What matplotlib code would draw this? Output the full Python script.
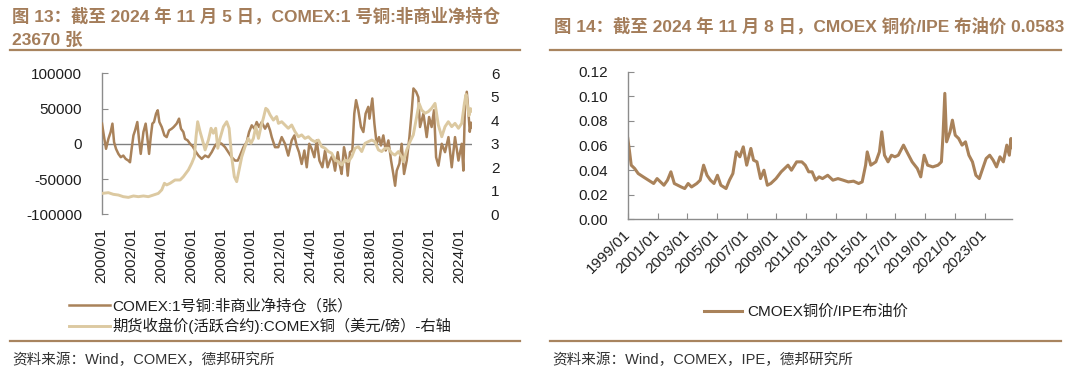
import matplotlib
matplotlib.use('Agg')
import matplotlib.pyplot as plt
from matplotlib.lines import Line2D

plt.rcParams['font.family'] = ['Liberation Sans', 'Noto Sans CJK SC']
plt.rcParams['axes.unicode_minus'] = False

# ---------------- data: figure 13 ----------------
net_years = [2000.02, 2000.16, 2000.29, 2000.45, 2000.60, 2000.72, 2000.83, 2000.96, 2001.12, 2001.28,
             2001.45, 2001.61, 2001.79, 2001.90, 2002.01, 2002.13, 2002.24, 2002.39, 2002.51, 2002.62,
             2002.80, 2002.95, 2003.06, 2003.18, 2003.29, 2003.40, 2003.51, 2003.65, 2003.76, 2003.87,
             2004.03, 2004.21, 2004.36, 2004.52, 2004.70, 2004.83, 2005.03, 2005.19, 2005.32, 2005.48,
             2005.59, 2005.77, 2005.93, 2006.11, 2006.26, 2006.49, 2006.71, 2006.94, 2007.16, 2007.38,
             2007.61, 2007.83, 2008.05, 2008.28, 2008.50, 2008.72, 2008.95, 2009.13, 2009.28, 2009.51,
             2009.73, 2009.89, 2010.07, 2010.25, 2010.40, 2010.56, 2010.74, 2010.96, 2011.14, 2011.30,
             2011.41, 2011.63, 2011.85, 2012.08, 2012.30, 2012.52, 2012.75, 2012.93, 2013.08, 2013.24,
             2013.42, 2013.60, 2013.76, 2013.93, 2014.09, 2014.27, 2014.43, 2014.61, 2014.81, 2014.99,
             2015.16, 2015.32, 2015.48, 2015.66, 2015.84, 2015.99, 2016.10, 2016.26, 2016.40, 2016.51,
             2016.66, 2016.82, 2016.95, 2017.07, 2017.22, 2017.40, 2017.56, 2017.71, 2017.89, 2017.97,
             2018.16, 2018.30, 2018.45, 2018.61, 2018.74, 2018.90, 2019.06, 2019.24, 2019.42, 2019.57,
             2019.69, 2019.80, 2019.98, 2020.13, 2020.29, 2020.47, 2020.65, 2020.81, 2020.92, 2021.10,
             2021.25, 2021.36, 2021.59, 2021.81, 2021.97, 2022.14, 2022.30, 2022.44, 2022.60, 2022.82,
             2023.04, 2023.27, 2023.49, 2023.71, 2023.94, 2024.16, 2024.27, 2024.38, 2024.50, 2024.61,
             2024.70, 2024.78, 2024.85]
net_pos = [28600, 9500, -7100, 7100, 16700, 28600, 2400, -7100, -14300, -19000,
           -16700, -21400, -23800, -26200, -7100, 11900, 19000, 30900, 4800, -14300,
           16700, 28600, 9500, -14300, 9500, 28600, 30900, 42900, 47600, 30900,
           23800, 11900, 9500, 19000, 21400, 23800, 28600, 35700, 21400, 16700,
           7100, 4800, 0, -3800, -9500, -16700, -21400, -16700, -19000, -11900,
           -2400, 2400, 0, -4800, -11900, -19000, -23800, -23800, -16700, -4800,
           2400, 16700, 26200, 21400, 30900, 23800, 30900, 21400, 28600, 19000,
           9500, -4800, -4800, 9500, 0, -16700, 4800, 11900, -2400, -11900,
           -28600, -9500, -33300, 0, -7100, -19000, 4800, -23800, -33300, -9500,
           -33300, -23800, -16700, -38100, -11900, -30900, -42800, -4800, -19000, -45200,
           -11900, -9500, 42800, 61900, 47600, 23800, 16700, 42800, 52400, 35700,
           64300, 28600, 0, 9500, -2400, 11900, -9500, 4800, -23800, -42800,
           -59500, -38100, -28000, 0, -42800, -23800, 9500, 47600, 78500, 73800,
           66000, 23800, 42800, 9500, 38000, 23800, 47600, -19000, -31000, 0,
           -11900, 9500, -33300, 9500, -23800, 0, -38000, 57000, 73800, 45000,
           17000, 30000, 23670]

px_years = [2000.02, 2000.45, 2000.78, 2001.12, 2001.45, 2001.79, 2002.13, 2002.46, 2002.80, 2003.13,
            2003.47, 2003.80, 2004.03, 2004.21, 2004.36, 2004.59, 2004.92, 2005.26, 2005.48, 2005.82,
            2006.04, 2006.22, 2006.33, 2006.44, 2006.60, 2006.76, 2006.94, 2007.16, 2007.34, 2007.49,
            2007.65, 2007.79, 2007.94, 2008.17, 2008.39, 2008.55, 2008.72, 2008.90, 2009.06, 2009.22,
            2009.40, 2009.62, 2009.84, 2010.02, 2010.18, 2010.34, 2010.52, 2010.69, 2010.85, 2011.01,
            2011.14, 2011.30, 2011.52, 2011.74, 2011.86, 2012.08, 2012.30, 2012.52, 2012.75, 2012.97,
            2013.20, 2013.42, 2013.64, 2013.87, 2014.09, 2014.31, 2014.54, 2014.76, 2014.99, 2015.21,
            2015.43, 2015.66, 2015.88, 2016.10, 2016.33, 2016.55, 2016.78, 2017.00, 2017.22, 2017.45,
            2017.67, 2017.89, 2018.12, 2018.34, 2018.57, 2018.79, 2019.01, 2019.24, 2019.46, 2019.68,
            2019.91, 2020.13, 2020.24, 2020.47, 2020.69, 2020.91, 2021.14, 2021.30, 2021.47, 2021.70,
            2021.92, 2022.14, 2022.37, 2022.59, 2022.82, 2023.04, 2023.26, 2023.49, 2023.71, 2023.94,
            2024.16, 2024.34, 2024.45, 2024.55, 2024.65, 2024.75, 2024.85]
px_vals = [0.89, 0.92, 0.85, 0.82, 0.75, 0.72, 0.78, 0.75, 0.78, 0.75,
           0.82, 0.89, 1.04, 1.32, 1.25, 1.32, 1.46, 1.46, 1.60, 1.89,
           2.17, 2.45, 3.30, 3.94, 3.52, 3.16, 2.74, 3.16, 3.66, 3.45,
           3.66, 2.81, 3.23, 3.73, 3.94, 3.66, 2.45, 1.60, 1.39, 1.89,
           2.45, 2.88, 3.23, 3.02, 3.23, 3.73, 3.23, 3.73, 4.09, 4.51,
           4.44, 4.23, 4.01, 4.16, 3.87, 3.94, 3.80, 3.66, 3.80, 3.52,
           3.30, 3.38, 3.23, 3.30, 3.16, 3.09, 3.16, 2.88, 2.81, 2.67,
           2.60, 2.31, 2.24, 2.10, 2.31, 2.24, 2.45, 2.81, 2.88, 2.67,
           3.02, 3.09, 3.16, 3.09, 2.74, 2.67, 2.81, 2.81, 2.60, 2.52,
           2.67, 2.45, 2.24, 2.74, 3.09, 3.38, 4.16, 4.72, 4.44, 4.30,
           4.37, 4.51, 4.72, 3.80, 3.30, 3.73, 3.94, 3.73, 3.87, 3.66,
           3.87, 4.72, 5.10, 4.60, 4.20, 4.50, 4.40]

left_xticks = [2000, 2002, 2004, 2006, 2008, 2010, 2012, 2014, 2016, 2018, 2020, 2022, 2024]
left_xlabels = ['2000/01', '2002/01', '2004/01', '2006/01', '2008/01', '2010/01', '2012/01',
                '2014/01', '2016/01', '2018/01', '2020/01', '2022/01', '2024/01']
left_yticks = [-100000, -50000, 0, 50000, 100000]
right_yticks = [0, 1, 2, 3, 4, 5, 6]

# ---------------- data: figure 14 ----------------
ratio_years = [1999.00, 1999.12, 1999.23, 1999.46, 1999.70, 2000.04, 2000.39, 2000.74, 2000.97, 2001.20,
               2001.43, 2001.67, 2001.90, 2002.13, 2002.36, 2002.59, 2002.83, 2003.06, 2003.29, 2003.64,
               2003.87, 2004.10, 2004.33, 2004.56, 2004.80, 2005.03, 2005.26, 2005.61, 2005.84, 2006.07,
               2006.30, 2006.54, 2006.77, 2007.00, 2007.28, 2007.46, 2007.69, 2007.93, 2008.16, 2008.39,
               2008.62, 2008.97, 2009.32, 2009.55, 2009.78, 2010.01, 2010.36, 2010.71, 2010.94, 2011.17,
               2011.40, 2011.64, 2011.87, 2012.10, 2012.45, 2012.80, 2013.14, 2013.49, 2013.84, 2014.19,
               2014.53, 2014.77, 2015.00, 2015.11, 2015.35, 2015.69, 2015.93, 2016.09, 2016.27, 2016.51,
               2016.74, 2016.97, 2017.20, 2017.55, 2017.78, 2018.13, 2018.48, 2018.71, 2018.94, 2019.17,
               2019.52, 2019.87, 2020.10, 2020.21, 2020.33, 2020.45, 2020.68, 2020.84, 2021.03, 2021.26,
               2021.49, 2021.72, 2021.95, 2022.19, 2022.42, 2022.65, 2022.88, 2023.11, 2023.35, 2023.58,
               2023.81, 2024.04, 2024.27, 2024.50, 2024.67, 2024.78, 2024.85]
ratio_vals = [0.0657, 0.0548, 0.0440, 0.0413, 0.0372, 0.0345, 0.0318, 0.0291, 0.0331, 0.0304,
              0.0277, 0.0318, 0.0386, 0.0291, 0.0277, 0.0263, 0.0250, 0.0291, 0.0263, 0.0291,
              0.0318, 0.0440, 0.0358, 0.0318, 0.0291, 0.0358, 0.0277, 0.0250, 0.0318, 0.0372,
              0.0548, 0.0508, 0.0589, 0.0440, 0.0576, 0.0481, 0.0467, 0.0331, 0.0399, 0.0277,
              0.0291, 0.0331, 0.0386, 0.0413, 0.0440, 0.0399, 0.0467, 0.0467, 0.0440, 0.0386,
              0.0386, 0.0318, 0.0345, 0.0331, 0.0358, 0.0318, 0.0331, 0.0318, 0.0304, 0.0310,
              0.0291, 0.0304, 0.0440, 0.0548, 0.0440, 0.0467, 0.0548, 0.0711, 0.0521, 0.0467,
              0.0521, 0.0508, 0.0521, 0.0603, 0.0548, 0.0467, 0.0413, 0.0345, 0.0521, 0.0440,
              0.0426, 0.0440, 0.0467, 0.0684, 0.1024, 0.0630, 0.0711, 0.0806, 0.0684, 0.0657,
              0.0603, 0.0630, 0.0521, 0.0467, 0.0358, 0.0331, 0.0413, 0.0494, 0.0521, 0.0481,
              0.0426, 0.0508, 0.0467, 0.0603, 0.0521, 0.0657, 0.0583]
r_xticks = [1999, 2001, 2003, 2005, 2007, 2009, 2011, 2013, 2015, 2017, 2019, 2021, 2023]
r_xlabels = ['1999/01', '2001/01', '2003/01', '2005/01', '2007/01', '2009/01', '2011/01',
             '2013/01', '2015/01', '2017/01', '2019/01', '2021/01', '2023/01']
r_yticks = [0.00, 0.02, 0.04, 0.06, 0.08, 0.10, 0.12]

# ---------------- style ----------------
DARK = '#A9825A'
LIGHT = '#DCC9A1'
TITLE_C = '#A47D5A'
RULE_C = '#A8845F'
SPINE_C = '#8C8C8C'
TXT_C = '#1F1F1F'
W, H = 1080, 376

fig = plt.figure(figsize=(10.8, 3.76), dpi=100)


def rect(l, t, r, b):
    return [l / W, 1 - b / H, (r - l) / W, (b - t) / H]


def hline(x0, x1, y):
    fig.add_artist(Line2D([x0 / W, x1 / W], [1 - y / H, 1 - y / H], color=RULE_C, lw=1.6,
                          transform=fig.transFigure))


# ---------- left chart ----------
ax1 = fig.add_axes(rect(101.7, 73.3, 472, 214.3))
ax1r = ax1.twinx()
l1, = ax1.plot(net_years, net_pos, color=DARK, lw=1.8, zorder=3)
l2, = ax1r.plot(px_years, px_vals, color=LIGHT, lw=2.1)
ax1.set_xlim(2000.0, 2024.85)
ax1.set_ylim(-100000, 100000)
ax1r.set_ylim(0, 6)
ax1.axhline(0, color='#808080', lw=1.0, zorder=2)
ax1.set_yticks(left_yticks)
ax1.set_yticklabels([str(v) for v in left_yticks])
ax1r.set_yticks(right_yticks)
ax1.set_xticks(left_xticks)
ax1.set_xticklabels(left_xlabels, rotation=90, va='top', ha='center')
for s in ['top', 'right', 'bottom']:
    ax1.spines[s].set_visible(False)
    ax1r.spines[s].set_visible(False)
ax1r.spines['left'].set_visible(False)
ax1.spines['left'].set_color(SPINE_C)
ax1.spines['left'].set_linewidth(1.0)
ax1.tick_params(axis='y', direction='in', length=4, color=SPINE_C, pad=14, labelsize=11, labelcolor=TXT_C)
ax1.tick_params(axis='x', length=0, pad=10, labelsize=11, labelcolor=TXT_C)
ax1r.tick_params(axis='y', length=0, pad=13.5, labelsize=11, labelcolor=TXT_C)

fig.legend(handles=[l1, l2],
           labels=['COMEX:1号铜:非商业净持仓（张）', '期货收盘价(活跃合约):COMEX铜（美元/磅）-右轴'],
           loc='center left', bbox_to_anchor=(68.9 / W, 1 - 316.3 / H), frameon=False, fontsize=11,
           handlelength=2.7, handletextpad=0.15, borderpad=0, borderaxespad=0, labelspacing=0.3,
           labelcolor=TXT_C)

# ---------- right chart ----------
ax2 = fig.add_axes(rect(627.8, 71.7, 1012, 219.3))
l3, = ax2.plot(ratio_years, ratio_vals, color=DARK, lw=2.2)
ax2.set_xlim(1999.0, 2024.85)
ax2.set_ylim(0, 0.12)
ax2.set_yticks(r_yticks)
ax2.set_yticklabels(['%.2f' % v for v in r_yticks])
ax2.set_xticks(r_xticks)
ax2.set_xticklabels(r_xlabels, rotation=45, ha='right', va='center', rotation_mode='anchor')
for s in ['top', 'right']:
    ax2.spines[s].set_visible(False)
for s in ['left', 'bottom']:
    ax2.spines[s].set_color(SPINE_C)
    ax2.spines[s].set_linewidth(1.0)
ax2.tick_params(axis='y', direction='in', length=4, color=SPINE_C, pad=14, labelsize=11, labelcolor=TXT_C)
ax2.tick_params(axis='x', direction='in', length=4, color=SPINE_C, pad=9, labelsize=11, labelcolor=TXT_C)

fig.legend(handles=[l3], labels=['CMOEX铜价/IPE布油价'], loc='center left',
           bbox_to_anchor=(703.6 / W, 1 - 312 / H), frameon=False, fontsize=11,
           handlelength=2.5, handletextpad=0.35, borderpad=0, borderaxespad=0, labelcolor=TXT_C)

# ---------- titles, rules, sources ----------
fig.text(12 / W, 1 - 15.5 / H, '图 13：截至 2024 年 11 月 5 日，COMEX:1 号铜:非商业净持仓',
         fontsize=12.5, fontweight='bold', color=TITLE_C, va='center', ha='left')
fig.text(12 / W, 1 - 39.6 / H, '23670 张', fontsize=12.5, fontweight='bold', color=TITLE_C,
         va='center', ha='left')
fig.text(553.8 / W, 1 - 25.8 / H, '图 14：截至 2024 年 11 月 8 日，CMOEX 铜价/IPE 布油价 0.0583',
         fontsize=12.5, fontweight='bold', color=TITLE_C, va='center', ha='left')
hline(10.3, 520, 49.9)
hline(550.3, 1060.7, 49.9)
hline(10.3, 520, 341.3)
hline(550.3, 1060.7, 341.3)
fig.text(12 / W, 1 - 360.2 / H, '资料来源：Wind，COMEX，德邦研究所', fontsize=10.5, color='#333333',
         va='center', ha='left')
fig.text(552 / W, 1 - 360.2 / H, '资料来源：Wind，COMEX，IPE，德邦研究所', fontsize=10.5, color='#333333',
         va='center', ha='left')

fig.savefig('out.png', dpi=100)
